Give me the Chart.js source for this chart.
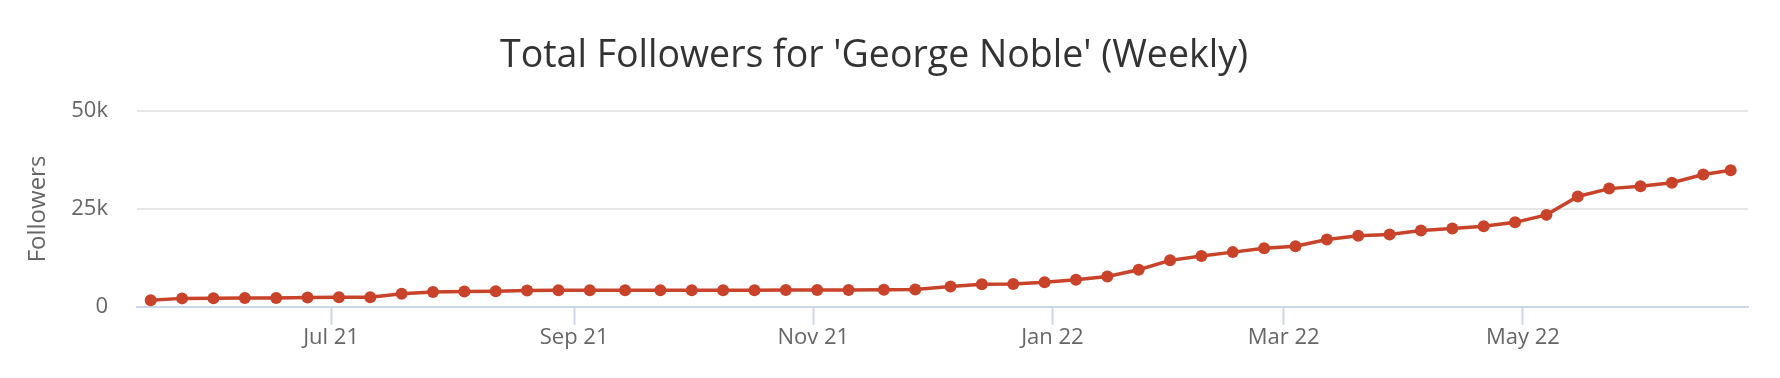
<!DOCTYPE html>
<html lang="en">
<head>
  <meta charset="UTF-8" />
  <title>Total Followers for 'George Noble' (Weekly)</title>
  <script src="https://cdn.jsdelivr.net/npm/chart.js"></script>
  <style>
    body {
      margin: 0;
      background: #ffffff;
    }
    #wrap {
      width: 1780px;
      height: 378px;
      position: relative;
    }
  </style>
</head>
<body>
  <div id="wrap">
    <canvas id="followers-chart"></canvas>
  </div>

  <script>
    const dates = [
      "2021-05-16", "2021-05-24", "2021-06-01", "2021-06-09", "2021-06-17", "2021-06-25",
      "2021-07-03", "2021-07-11", "2021-07-19", "2021-07-27", "2021-08-04", "2021-08-12",
      "2021-08-20", "2021-08-28", "2021-09-05", "2021-09-14", "2021-09-23", "2021-10-01",
      "2021-10-09", "2021-10-17", "2021-10-25", "2021-11-02", "2021-11-10", "2021-11-19",
      "2021-11-27", "2021-12-06", "2021-12-14", "2021-12-22", "2021-12-30", "2022-01-07",
      "2022-01-15", "2022-01-23", "2022-01-31", "2022-02-08", "2022-02-16", "2022-02-24",
      "2022-03-04", "2022-03-12", "2022-03-20", "2022-03-28", "2022-04-05", "2022-04-13",
      "2022-04-21", "2022-04-29", "2022-05-07", "2022-05-15", "2022-05-23", "2022-05-31",
      "2022-06-08", "2022-06-16", "2022-06-23"
    ];
    const followers = [
      1750, 2200, 2250, 2300, 2300, 2400,
      2500, 2500, 3400, 3850, 3950, 4000,
      4200, 4250, 4300, 4300, 4300, 4300,
      4300, 4300, 4350, 4350, 4350, 4400,
      4450, 5200, 5800, 5850, 6300, 6950,
      7800, 9500, 11900, 13000, 14000, 15000,
      15500, 17200, 18200, 18500, 19500, 20000,
      20600, 21600, 23500, 28200, 30200, 30800,
      31700, 33800, 34900
    ];
    const tickDates = ["2021-07-01", "2021-09-01", "2021-11-01", "2022-01-01", "2022-03-01", "2022-05-01"];
    const tickLabels = ["Jul 21", "Sep 21", "Nov 21", "Jan 22", "Mar 22", "May 22"];
    const yTicks = [0, 25000, 50000];
    const yTickLabels = ["0", "25k", "50k"];

    const FONT = "'Open Sans', 'DejaVu Sans', sans-serif";
    const LINE_COLOR = "#c8432a";

    // jours depuis l'epoch, pour un axe x lineaire
    const toDay = s => Date.parse(s + (s.length === 10 ? "T00:00:00Z" : "Z")) / 86400000;

    const points = dates.map((d, i) => ({ x: toDay(d), y: followers[i] }));

    const ctx = document.getElementById("followers-chart").getContext("2d");

    new Chart(ctx, {
      type: "line",
      data: {
        datasets: [{
          label: "Followers",
          data: points,
          borderColor: LINE_COLOR,
          backgroundColor: LINE_COLOR,
          borderWidth: 3.5,
          pointRadius: 6,
          pointBorderWidth: 0,
          pointBackgroundColor: LINE_COLOR,
          tension: 0,
          fill: false
        }]
      },
      options: {
        responsive: true,
        maintainAspectRatio: false,
        animation: false,
        layout: {
          padding: { left: 0, right: 32, top: 0, bottom: 0 }
        },
        plugins: {
          legend: { display: false },
          tooltip: { enabled: false },
          title: {
            display: true,
            text: "Total Followers for 'George Noble' (Weekly)",
            color: "#333333",
            font: { family: FONT, size: 37.5, weight: "normal", lineHeight: 1.2 },
            padding: { top: 34, bottom: 32 }
          }
        },
        scales: {
          x: {
            type: "linear",
            bounds: "data",
            min: toDay("2021-05-12T12:00:00"),
            max: toDay("2022-06-27T10:00:00"),
            afterBuildTicks: scale => {
              scale.ticks = tickDates.map(d => ({ value: toDay(d) }));
            },
            afterFit: scale => { scale.height = 71; },
            grid: {
              drawOnChartArea: false,
              drawTicks: true,
              tickLength: 18,
              tickWidth: 2,
              tickColor: "#ccd6eb"
            },
            border: { display: true, color: "#ccd6eb", width: 2 },
            ticks: {
              padding: 0,
              maxRotation: 0,
              autoSkip: false,
              color: "#666666",
              font: { family: FONT, size: 22 },
              callback: (value, index) => tickLabels[index]
            }
          },
          y: {
            min: 0,
            max: 50000,
            afterBuildTicks: scale => {
              scale.ticks = yTicks.map(v => ({ value: v }));
            },
            afterFit: scale => { scale.width = 137; },
            grid: {
              color: "#e6e6e6",
              lineWidth: 2,
              drawTicks: false
            },
            border: { display: false },
            ticks: {
              padding: 29,
              color: "#666666",
              font: { family: FONT, size: 22 },
              callback: (value, index) => yTickLabels[index]
            },
            title: {
              display: true,
              text: "Followers",
              color: "#666666",
              font: { family: FONT, size: 24, lineHeight: 1.2 },
              padding: { top: 24, bottom: 0 }
            }
          }
        }
      }
    });
  </script>
</body>
</html>
